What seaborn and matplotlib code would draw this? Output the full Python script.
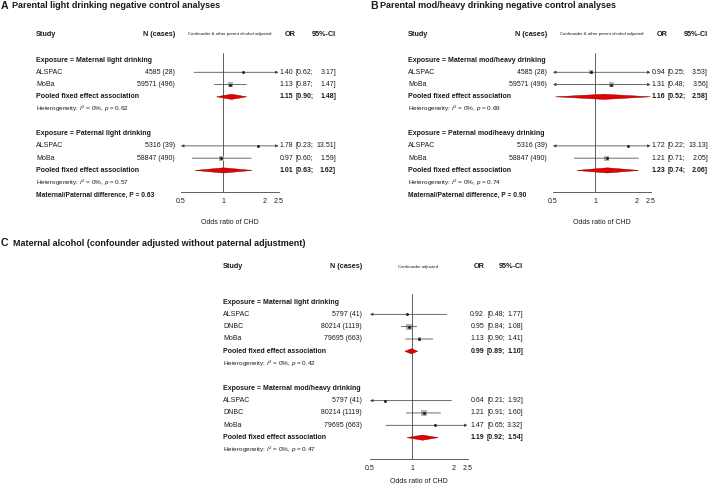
import numpy as np
import pandas as pd
import matplotlib
matplotlib.use("Agg")
import matplotlib.pyplot as plt
import matplotlib.transforms as mtransforms
import seaborn as sns

W, H = 709, 484

# Panel A: parental light drinking negative control
a_mat_study = ["ALSPAC", "MoBa"]
a_mat_n = ["4585 (28)", "59571 (496)"]
a_mat_or = [1.40, 1.13]
a_mat_lo = [0.62, 0.87]
a_mat_hi = [3.17, 1.47]
a_mat_pooled = [1.15, 0.90, 1.48]
a_mat_het = ["0%", "0.62"]

a_pat_study = ["ALSPAC", "MoBa"]
a_pat_n = ["5316 (39)", "58847 (490)"]
a_pat_or = [1.78, 0.97]
a_pat_lo = [0.23, 0.60]
a_pat_hi = [13.51, 1.59]
a_pat_pooled = [1.01, 0.63, 1.62]
a_pat_het = ["0%", "0.57"]
a_diff_p = "0.63"

# Panel B: parental mod/heavy drinking negative control
b_mat_study = ["ALSPAC", "MoBa"]
b_mat_n = ["4585 (28)", "59571 (496)"]
b_mat_or = [0.94, 1.31]
b_mat_lo = [0.25, 0.48]
b_mat_hi = [3.53, 3.56]
b_mat_pooled = [1.16, 0.52, 2.58]
b_mat_het = ["0%", "0.69"]

b_pat_study = ["ALSPAC", "MoBa"]
b_pat_n = ["5316 (39)", "58847 (490)"]
b_pat_or = [1.72, 1.21]
b_pat_lo = [0.22, 0.71]
b_pat_hi = [13.13, 2.05]
b_pat_pooled = [1.23, 0.74, 2.06]
b_pat_het = ["0%", "0.74"]
b_diff_p = "0.90"

# Panel C: maternal alcohol, confounder adjusted only
c_study = ["ALSPAC", "DNBC", "MoBa"]
c_light_n = ["5797 (41)", "80214 (1119)", "79695 (663)"]
c_light_or = [0.92, 0.95, 1.13]
c_light_lo = [0.48, 0.84, 0.90]
c_light_hi = [1.77, 1.08, 1.41]
c_light_pooled = [0.99, 0.89, 1.10]
c_light_het = ["0%", "0.42"]

c_heavy_n = ["5797 (41)", "80214 (1119)", "79695 (663)"]
c_heavy_or = [0.64, 1.21, 1.47]
c_heavy_lo = [0.21, 0.91, 0.65]
c_heavy_hi = [1.92, 1.60, 3.32]
c_heavy_pooled = [1.19, 0.92, 1.54]
c_heavy_het = ["0%", "0.47"]

xticks = [0.5, 1, 2, 2.5]
xtick_labels = ["0.5", "1", "2", "2.5"]
xmin, xmax = 0.5, 2.5

sns.set_theme(style="white")
plt.rcParams["font.family"] = ["Liberation Sans", "DejaVu Sans"]
plt.rcParams["mathtext.fontset"] = "custom"
plt.rcParams["mathtext.rm"] = "Liberation Sans"
plt.rcParams["mathtext.it"] = "Liberation Sans:italic"
plt.rcParams["mathtext.bf"] = "Liberation Sans:bold"

TXT = "#1a1a1a"
LINE = "#444444"
SQUARE = "#b4b4b4"
DIAMOND = "#e60000"


def group(title, study, n, est, lo, hi, pooled, het):
    return dict(title=title, study=study, n=n, est=est, lo=lo, hi=hi,
                pooled=pooled, het=het)


def draw_panel(fig, groups, geo, conf_label, diff_p=None):
    ax = fig.add_axes([geo["fx0"] / W, 1 - geo["axis_y"] / H,
                       (geo["fx1"] - geo["fx0"]) / W,
                       (geo["axis_y"] - geo["vtop_y"]) / H])
    ax.set_xscale("log")
    ax.set_xlim(xmin, xmax)
    ax.set_ylim((geo["axis_y"] - geo["row0_y"]) / geo["pitch"],
                (geo["vtop_y"] - geo["row0_y"]) / geo["pitch"])
    ax.patch.set_alpha(0)
    for s in ["top", "left", "right"]:
        ax.spines[s].set_visible(False)
    ax.spines["bottom"].set_color(LINE)
    ax.spines["bottom"].set_linewidth(0.6)
    ax.set_xticks(xticks)
    ax.set_xticklabels(xtick_labels)
    ax.minorticks_off()
    ax.set_yticks([])
    ax.tick_params(axis="x", direction="in", length=3.5, width=0.6,
                   color=LINE, labelsize=5, labelcolor=TXT, pad=4.5)
    ax.set_xlabel("Odds ratio of CHD", fontsize=5, color=TXT,
                  labelpad=geo["labelpad"])
    ax.axvline(1, color=LINE, lw=0.6, zorder=1)

    tr = mtransforms.blended_transform_factory(fig.transFigure, ax.transData)

    def put(xpx, row, s, **kw):
        kw.setdefault("fontsize", 5)
        kw.setdefault("color", TXT)
        ax.text(xpx / W, row, s, transform=tr, va="center", clip_on=False, **kw)

    # header row
    hy = 1 - geo["head_y"] / H
    fig.text(geo["x_study"] / W, hy, "Study", fontsize=5.2, fontweight="bold",
             va="center", ha="left", color=TXT)
    fig.text(geo["x_n"] / W, hy, "N (cases)", fontsize=5.2, fontweight="bold",
             va="center", ha="right", color=TXT)
    fig.text(geo["x_conf"] / W, hy, conf_label, fontsize=3.2, va="center",
             ha="center", color=TXT)
    fig.text(geo["x_or_head"] / W, hy, "OR", fontsize=5.2, fontweight="bold",
             va="center", ha="center", color=TXT)
    fig.text(geo["x_ci"] / W, hy, "95%-CI", fontsize=5.2, fontweight="bold",
             va="center", ha="right", color=TXT)

    r = 0
    for grp in groups:
        k = len(grp["study"])
        put(geo["x_study"], r, grp["title"], fontweight="bold")
        rows = np.arange(r + 1, r + 1 + k)
        est = np.array(grp["est"])
        lo = np.array(grp["lo"])
        hi = np.array(grp["hi"])

        # square size from inverse-variance weight
        se = (np.log(hi) - np.log(lo)) / 3.92
        w = 1 / se ** 2
        side_px = np.maximum(geo["sq"] * np.sqrt(w / w.max()), 1.0)
        df = pd.DataFrame({"est": est, "row": rows})
        sns.scatterplot(data=df, x="est", y="row", s=(side_px * 0.72) ** 2,
                        marker="s", color=SQUARE, edgecolor="none", linewidth=0,
                        legend=False, ax=ax, zorder=2)
        ax.plot(est, rows, "o", ms=1.1, color="#222222", ls="none", zorder=4)

        for i in range(k):
            l0, h0 = max(lo[i], xmin), min(hi[i], xmax)
            style = {(False, False): "-", (True, False): "<|-",
                     (False, True): "-|>", (True, True): "<|-|>"}[(lo[i] < xmin, hi[i] > xmax)]
            ax.annotate("", xy=(h0, rows[i]), xytext=(l0, rows[i]),
                        arrowprops=dict(arrowstyle=style, lw=0.55, color=LINE,
                                        shrinkA=0, shrinkB=0, mutation_scale=4),
                        annotation_clip=False, zorder=3)
            put(geo["x_study"], rows[i], grp["study"][i])
            put(geo["x_n"], rows[i], grp["n"][i], ha="right")
            put(geo["x_or"], rows[i], f"{est[i]:.2f}", ha="right")
            put(geo["x_br"], rows[i], f"[{lo[i]:.2f};", ha="left")
            put(geo["x_ci"], rows[i], f"{hi[i]:.2f}]", ha="right")

        # pooled diamond
        pe, pl, ph = grp["pooled"]
        rp = r + k + 1
        d = 2.6 / geo["pitch"]
        ax.fill([pl, pe, min(ph, xmax), pe], [rp, rp - d, rp, rp + d],
                facecolor=DIAMOND, edgecolor="#7a0000", lw=0.3, zorder=3)
        put(geo["x_study"], rp, "Pooled fixed effect association", fontweight="bold")
        put(geo["x_or"], rp, f"{pe:.2f}", ha="right", fontweight="bold")
        put(geo["x_br"], rp, f"[{pl:.2f};", ha="left", fontweight="bold")
        put(geo["x_ci"], rp, f"{ph:.2f}]", ha="right", fontweight="bold")

        i2, p = grp["het"]
        put(geo["x_study"], rp + 1,
            f"Heterogeneity: $I^2$ = {i2}, $p$ = {p}", fontsize=4.6)
        r = rp + 3

    if diff_p is not None:
        put(geo["x_study"], r - 1, f"Maternal/Paternal difference, P = {diff_p}",
            fontsize=4.8, fontweight="bold")
    return ax


fig = plt.figure(figsize=(W / 100, H / 100), dpi=100)

geo_a = dict(x_study=36, x_n=175, x_conf=230, x_or_head=290, x_or=293,
             x_br=296, x_ci=336, fx0=181, fx1=278.5, head_y=34, row0_y=60,
             pitch=12.27, axis_y=192, vtop_y=53, sq=5.0, labelpad=10)
geo_b = dict(geo_a)
for key in ["x_study", "x_n", "x_conf", "x_or_head", "x_or", "x_br", "fx0", "fx1"]:
    geo_b[key] = geo_a[key] + 372
geo_b["x_ci"] = 708
geo_c = dict(x_study=223, x_n=362, x_conf=418, x_or_head=479, x_or=484,
             x_br=487, x_ci=523, fx0=370, fx1=467.5, head_y=267, row0_y=302,
             pitch=12.33, axis_y=459, vtop_y=294, sq=6.0, labelpad=4)

draw_panel(fig, [group("Exposure = Maternal light drinking", a_mat_study, a_mat_n,
                       a_mat_or, a_mat_lo, a_mat_hi, a_mat_pooled, a_mat_het),
                 group("Exposure = Paternal light drinking", a_pat_study, a_pat_n,
                       a_pat_or, a_pat_lo, a_pat_hi, a_pat_pooled, a_pat_het)],
           geo_a, "Confounder & other parent alcohol adjusted", a_diff_p)
draw_panel(fig, [group("Exposure = Maternal mod/heavy drinking", b_mat_study, b_mat_n,
                       b_mat_or, b_mat_lo, b_mat_hi, b_mat_pooled, b_mat_het),
                 group("Exposure = Paternal mod/heavy drinking", b_pat_study, b_pat_n,
                       b_pat_or, b_pat_lo, b_pat_hi, b_pat_pooled, b_pat_het)],
           geo_b, "Confounder & other parent alcohol adjusted", b_diff_p)
draw_panel(fig, [group("Exposure = Maternal light drinking", c_study, c_light_n,
                       c_light_or, c_light_lo, c_light_hi, c_light_pooled, c_light_het),
                 group("Exposure = Maternal mod/heavy drinking", c_study, c_heavy_n,
                       c_heavy_or, c_heavy_lo, c_heavy_hi, c_heavy_pooled, c_heavy_het)],
           geo_c, "Confounder adjusted")

# panel titles
titles = [("A", "Parental light drinking negative control analyses", 1, 12, 6),
          ("B", "Parental mod/heavy drinking negative control analyses", 370, 380, 6),
          ("C", "Maternal alcohol (confounder adjusted without paternal adjustment)", 1, 13, 243)]
for letter, text, xl, xt, yt in titles:
    fig.text(xl / W, 1 - yt / H, letter, fontsize=7.6, fontweight="bold",
             va="center", ha="left", color=TXT)
    fig.text(xt / W, 1 - yt / H, text, fontsize=6.5, fontweight="bold",
             va="center", ha="left", color=TXT)

fig.savefig("out.png", dpi=100)
